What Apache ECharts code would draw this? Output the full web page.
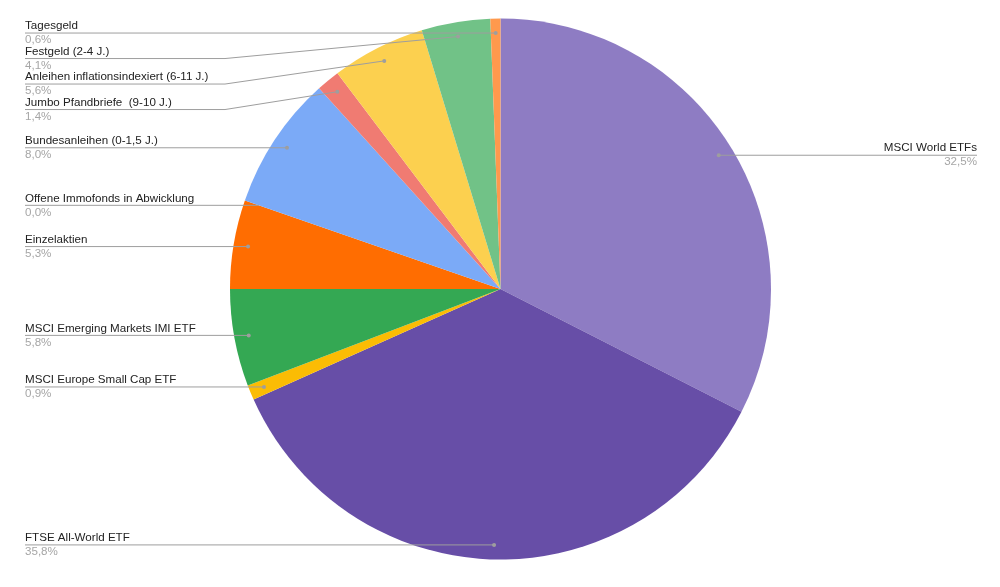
<!DOCTYPE html>
<html><head><meta charset="utf-8">
<script src="https://cdn.jsdelivr.net/npm/echarts@6/dist/echarts.min.js"></script>
<style>html,body{margin:0;padding:0;background:#fff}#c{width:1000px;height:587px}</style>
</head><body><div id="c"></div>
<script>
var categories = ['MSCI World ETFs','FTSE All-World ETF','MSCI Europe Small Cap ETF','MSCI Emerging Markets IMI ETF','Einzelaktien','Offene Immofonds in Abwicklung','Bundesanleihen (0-1,5 J.)','Jumbo Pfandbriefe  (9-10 J.)','Anleihen inflationsindexiert (6-11 J.)','Festgeld (2-4 J.)','Tagesgeld'];
var values = [32.5, 35.8, 0.9, 5.8, 5.3, 0.0, 8.0, 1.4, 5.6, 4.1, 0.6];
var colors = ['#8e7cc3','#674ea7','#fbbc04','#34a853','#ff6d01','#46bdc6','#7baaf7','#f07b72','#fcd04f','#71c287','#ff994d'];

var CX = 500.5, CY = 289, R = 270.5, RA = 256;
var total = values.reduce(function(a,b){return a+b;},0);
var anchors = [];
(function(){
  var cum = 0;
  for (var i=0;i<values.length;i++){
    var mid = (cum + values[i]/2)/total*2*Math.PI;
    anchors.push([CX + RA*Math.sin(mid), CY - RA*Math.cos(mid)]);
    cum += values[i];
  }
})();
var labelPos = [];
(function(){
  var left = [];
  for (var i=0;i<values.length;i++){
    if (anchors[i][0] >= CX + 100) labelPos[i] = {side:'right', y: anchors[i][1]};
    else left.push(i);
  }
  left.sort(function(a,b){return anchors[a][1]-anchors[b][1];});
  var prev = -1e9;
  left.forEach(function(i){
    var y = Math.max(anchors[i][1], prev + 25.5);
    labelPos[i] = {side:'left', y: y};
    prev = y;
  });
})();
function fmt(v){ return v.toFixed(1).replace('.', ',') + '%'; }
function linePts(i){
  var lp = labelPos[i], a = anchors[i];
  if (lp.side === 'right') return [[a[0], a[1]], [977, lp.y]];
  return [[25, lp.y], [225, lp.y], [a[0], a[1]]];
}

var chart = echarts.init(document.getElementById('c'), null, {renderer:'canvas'});
chart.setOption({
  animation: false,
  backgroundColor: '#fff',
  series: [{
    type: 'pie',
    center: [CX, CY],
    radius: R,
    startAngle: 90,
    clockwise: true,
    avoidLabelOverlap: false,
    minShowLabelAngle: 0,
    stillShowZeroSum: true,
    itemStyle: {borderWidth: 0},
    emphasis: {disabled: true},
    data: categories.map(function(n,i){ return {name:n, value:values[i], itemStyle:{color:colors[i]}}; }),
    label: {
      show: true,
      position: 'outside',
      formatter: function(p){ return '{n|' + p.name + '}\n{v|' + fmt(p.value) + '}'; },
      rich: {
        n: {fontFamily: 'Liberation Sans, Arial, sans-serif', fontSize: 11.6, color: '#222', lineHeight: 14},
        v: {fontFamily: 'Liberation Sans, Arial, sans-serif', fontSize: 11.6, color: '#a6a6a6', lineHeight: 14}
      }
    },
    labelLine: { show: false },
    labelLayout: function(p){
      var lp = labelPos[p.dataIndex];
      if (lp.side === 'right') return {x: 977, y: lp.y, align: 'right', verticalAlign: 'middle'};
      return {x: 25, y: lp.y, align: 'left', verticalAlign: 'middle'};
    }
  }, {
    type: 'custom',
    coordinateSystem: 'none',
    silent: true,
    z: 10,
    data: values.map(function(v,i){ return [i]; }),
    renderItem: function(params, api){
      var i = api.value(0);
      var a = anchors[i];
      var children = [{type:'polyline', shape:{points: linePts(i)}, style:{stroke:'#9e9e9e', lineWidth:1, fill:null}}];
      if (values[i] !== 0) children.push({type:'circle', shape:{cx:a[0], cy:a[1], r:2}, style:{fill:'#9e9e9e'}});
      return {type:'group', children: children};
    }
  }]
});
</script></body></html>
